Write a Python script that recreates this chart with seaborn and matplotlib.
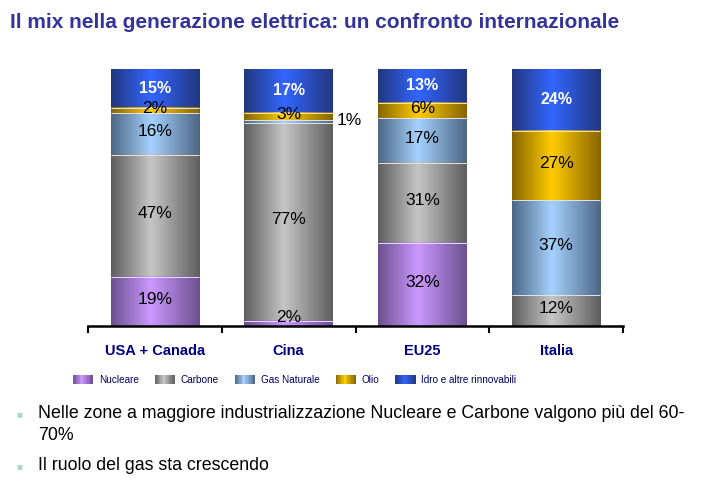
import numpy as np
import pandas as pd
import seaborn as sns
import matplotlib.pyplot as plt
from matplotlib.colors import LinearSegmentedColormap
from matplotlib.legend_handler import HandlerBase
from matplotlib.patches import Rectangle

# Dati (quote % della generazione elettrica)
paesi = ["USA + Canada", "Cina", "EU25", "Italia"]
fonti = ["Nucleare", "Carbone", "Gas Naturale", "Olio", "Idro e altre rinnovabili"]
nucleare = [19, 2, 32, 0]
carbone = [47, 77, 31, 12]
gas = [16, 1, 17, 37]
olio = [2, 3, 6, 27]
idro = [15, 17, 13, 24]

# colori: (bordo scuro, centro chiaro) per l'effetto cilindro
colori = {
    "Nucleare": ("#6b4f8f", "#cc99ff"),
    "Carbone": ("#5e5e5e", "#c6c6c6"),
    "Gas Naturale": ("#4c6684", "#a6d2ff"),
    "Olio": ("#866500", "#ffcc00"),
    "Idro e altre rinnovabili": ("#22377f", "#3366ff"),
}


def sfumatura(fonte):
    scuro, chiaro = colori[fonte]
    return LinearSegmentedColormap.from_list(fonte, [(0, scuro), (0.45, chiaro), (1, scuro)])


sns.set_style("white")
plt.rcParams["font.family"] = ["Liberation Sans", "DejaVu Sans"]

df = pd.DataFrame(
    {"Nucleare": nucleare, "Carbone": carbone, "Gas Naturale": gas,
     "Olio": olio, "Idro e altre rinnovabili": idro},
    index=paesi,
)
quote = df.div(df.sum(axis=1), axis=0) * 100  # barre al 100%
cumulate = quote.cumsum(axis=1)

fig = plt.figure(figsize=(7.05, 4.97), dpi=100)
ax = fig.add_axes([0.1248, 0.344, 0.759, 0.517])

grad = np.linspace(0, 1, 256).reshape(1, -1)
larghezza = 0.66

# barre impilate: si disegnano le cumulate dalla piu' alta alla piu' bassa
for i, fonte in enumerate(reversed(fonti)):
    n_prima = len(ax.patches)
    sns.barplot(x=paesi, y=cumulate[fonte].values, color=colori[fonte][1],
                width=larghezza, errorbar=None, ax=ax)
    z = 1 + i * 0.1
    for p in ax.patches[n_prima:]:
        x0, w, h = p.get_x(), p.get_width(), p.get_height()
        p.set_facecolor("none")
        p.set_linewidth(0)
        ax.imshow(grad, extent=[x0, x0 + w, 0, h], cmap=sfumatura(fonte),
                  aspect="auto", origin="lower", zorder=z)
        if i > 0:
            ax.hlines(h, x0, x0 + w, color="#e4e4e4", lw=0.7, zorder=z + 0.05)

# etichette percentuali
for j, paese in enumerate(paesi):
    base = 0
    for fonte in fonti:
        q = quote.loc[paese, fonte]
        v = df.loc[paese, fonte]
        if v > 0:
            y = base + q / 2
            if fonte == "Idro e altre rinnovabili":
                ax.text(j, y, f"{v}%", ha="center", va="center", color="white",
                        fontsize=11.5, fontweight="bold", zorder=5)
            elif v < 2:
                ax.text(j + larghezza / 2 + 0.03, y + 0.5, f"{v}%", ha="left",
                        va="center", color="black", fontsize=12.5, zorder=5)
            else:
                ax.text(j, max(y + 0.8, 3.2), f"{v}%", ha="center", va="center",
                        color="black", fontsize=12.5, zorder=5)
        base += q

ax.set_xlim(-0.5, 3.5)
ax.set_ylim(0, 100)
ax.set_xlabel("")
ax.set_ylabel("")
ax.set_yticks([])
ax.set_xticks(range(len(paesi)))
ax.set_xticklabels(paesi, fontsize=10.5, fontweight="bold", color="#000080")
ax.set_xticks(np.arange(-0.5, len(paesi)), minor=True)
ax.tick_params(axis="x", which="major", length=0, pad=13)
ax.tick_params(axis="x", which="minor", length=5, width=1.5, direction="out",
               color="black", bottom=True)
sns.despine(ax=ax, left=True)
ax.spines["bottom"].set_linewidth(1.8)
ax.spines["bottom"].set_color("black")


# legenda con riquadri sfumati
class Sfumato(HandlerBase):
    def __init__(self, cmap):
        super().__init__()
        self.cmap = cmap

    def create_artists(self, legend, orig_handle, xdescent, ydescent, width,
                       height, fontsize, trans):
        n = 14
        strisce = []
        for k in range(n):
            strisce.append(Rectangle((-xdescent + width * k / n, -ydescent),
                                     width / n + 0.2, height,
                                     facecolor=self.cmap((k + 0.5) / n),
                                     edgecolor="none", transform=trans))
        return strisce


maniglie = [Rectangle((0, 0), 1, 1) for _ in fonti]
mappa = {h: Sfumato(sfumatura(f)) for h, f in zip(maniglie, fonti)}
fig.legend(maniglie, fonti, handler_map=mappa, loc="center",
           bbox_to_anchor=(0.418, 0.2354), ncol=5, frameon=False,
           fontsize=7.2, labelcolor="#000066", handlelength=2.0,
           handleheight=0.95, handletextpad=0.6, columnspacing=1.6)

# titolo
fig.text(10 / 705, 1 - 22 / 497,
         "Il mix nella generazione elettrica: un confronto internazionale",
         ha="left", va="center", fontsize=15, fontweight="bold", color="#333399")

# punti elenco
for yb in [414, 466]:
    fig.text(19 / 705, 1 - yb / 497, "\u25a0", ha="center", va="center",
             fontsize=7, color="#a8d4d4")
fig.text(38 / 705, 1 - 414 / 497,
         "Nelle zone a maggiore industrializzazione Nucleare e Carbone valgono più del 60-",
         ha="left", va="center", fontsize=12.8, color="black")
fig.text(38 / 705, 1 - 436 / 497, "70%", ha="left", va="center",
         fontsize=12.8, color="black")
fig.text(38 / 705, 1 - 466 / 497, "Il ruolo del gas sta crescendo",
         ha="left", va="center", fontsize=12.8, color="black")

fig.savefig("out.png", dpi=100)
